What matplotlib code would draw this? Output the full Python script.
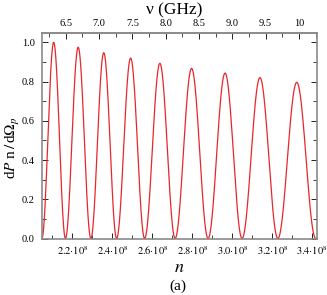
import numpy as np
import matplotlib
matplotlib.use('Agg')
import matplotlib.pyplot as plt
from matplotlib.ticker import MultipleLocator, FixedLocator, FixedFormatter

# ---- data ----
# zero positions of the oscillating curve (harmonic number n)
zeros_n = np.array([2.047, 2.165, 2.292, 2.421, 2.561, 2.7135, 2.8785,
                    3.0485, 3.2275, 3.417]) * 1e8
# height of each lobe between consecutive zeros
peak_heights = [1.0, 0.975, 0.947, 0.92, 0.893, 0.867, 0.843, 0.82, 0.796]

n_ticks = [2.2e8, 2.4e8, 2.6e8, 2.8e8, 3.0e8, 3.2e8, 3.4e8]
n_tick_labels = [r'$2.2{\cdot}10^{8}$', r'$2.4{\cdot}10^{8}$', r'$2.6{\cdot}10^{8}$',
                 r'$2.8{\cdot}10^{8}$', r'$3.0{\cdot}10^{8}$', r'$3.2{\cdot}10^{8}$',
                 r'$3.4{\cdot}10^{8}$']
nu_ticks = [6.5, 7.0, 7.5, 8.0, 8.5, 9.0, 9.5, 10.0]
nu_tick_labels = ['6.5', '7.0', '7.5', '8.0', '8.5', '9.0', '9.5', '10']
y_ticks = [0.0, 0.2, 0.4, 0.6, 0.8, 1.0]
y_tick_labels = ['0.0', '0.2', '0.4', '0.6', '0.8', '1.0']
GHZ_PER_N = 3e-8  # nu (GHz) = n * GHZ_PER_N

plt.rcParams['font.family'] = 'serif'
plt.rcParams['font.serif'] = ['Liberation Serif', 'DejaVu Serif']
plt.rcParams['mathtext.fontset'] = 'stix'

fig = plt.figure(figsize=(3.27, 2.95), dpi=100)
ax = fig.add_axes([0.1275, 0.1915, 0.841, 0.6983])

xs, ys = [], []
for i, h in enumerate(peak_heights):
    z0, z1 = zeros_n[i], zeros_n[i + 1]
    nn = np.linspace(z0, z1, 120)
    xs.append(nn)
    ys.append(h * np.sin(np.pi * (nn - z0) / (z1 - z0)) ** 2)
ax.plot(np.concatenate(xs), np.concatenate(ys), color='#e8262b', lw=0.9)

ax.set_xlim(2.046e8, 3.422e8)
ax.set_ylim(0, 1.05)

spine_c = '#8a8a8a'
for s in ax.spines.values():
    s.set_color(spine_c)
    s.set_linewidth(1.2)

ax.xaxis.set_major_locator(FixedLocator(n_ticks))
ax.xaxis.set_major_formatter(FixedFormatter(n_tick_labels))
ax.xaxis.set_minor_locator(MultipleLocator(0.1e8))
ax.yaxis.set_major_locator(FixedLocator(y_ticks))
ax.yaxis.set_major_formatter(FixedFormatter(y_tick_labels))
ax.yaxis.set_minor_locator(MultipleLocator(0.1))

ax.tick_params(axis='x', which='both', direction='in', top=False, bottom=True,
               labelsize=7.5, color='#222222', pad=4)
ax.tick_params(axis='y', which='both', direction='in', left=True, right=True,
               labelsize=7.5, color='#222222', pad=5)
ax.tick_params(which='major', length=4, width=0.7)
ax.tick_params(which='minor', length=3, width=0.6)

sec = ax.secondary_xaxis('top', functions=(lambda n: n * GHZ_PER_N,
                                           lambda v: v / GHZ_PER_N))
sec.xaxis.set_major_locator(FixedLocator(nu_ticks))
sec.xaxis.set_major_formatter(FixedFormatter(nu_tick_labels))
sec.xaxis.set_minor_locator(MultipleLocator(0.25))
sec.tick_params(which='both', direction='in', labelsize=7.5, color='#222222', pad=3)
sec.tick_params(which='major', length=4, width=0.7)
sec.tick_params(which='minor', length=3, width=0.6)
sec.spines['top'].set_color(spine_c)
sec.spines['top'].set_linewidth(1.2)

fig.text(174 / 327, 1 - 10 / 295, 'ν (GHz)', ha='center', va='center', fontsize=12.5)
fig.text(179 / 327, 1 - 267 / 295, r'$n$', ha='center', va='center', fontsize=13)
fig.text(178 / 327, 1 - 286 / 295, '(a)', ha='center', va='center', fontsize=11)
fig.text(13 / 327, 1 - 148 / 295, r'd$P$ n$\,/\,$d$\Omega_p$', ha='center', va='center',
         rotation=90, fontsize=11)

fig.savefig('out.png', dpi=100)
